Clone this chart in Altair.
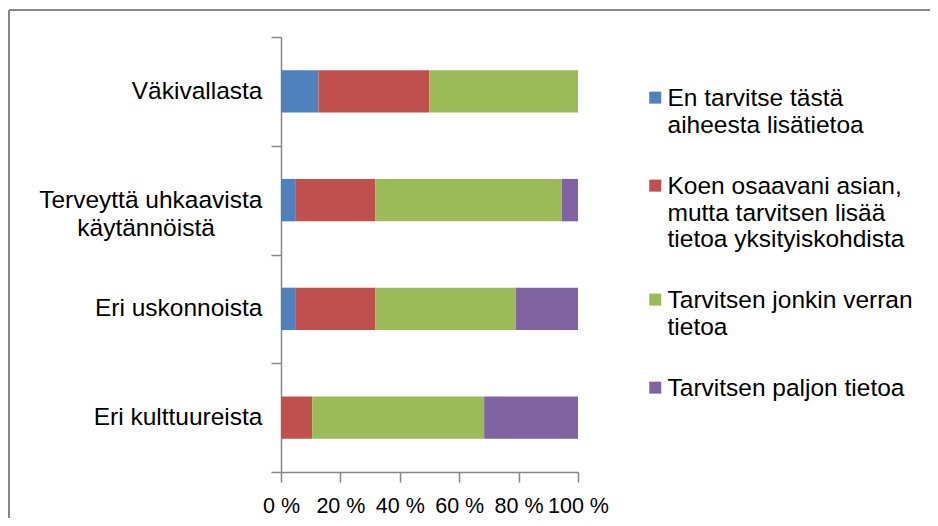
import altair as alt
import pandas as pd

categories = [
    "Väkivallasta",
    "Terveyttä uhkaavista\nkäytännöistä",
    "Eri uskonnoista",
    "Eri kulttuureista",
]
series = [
    "En tarvitse tästä\naiheesta lisätietoa",
    "Koen osaavani asian,\nmutta tarvitsen lisää\ntietoa yksityiskohdista",
    "Tarvitsen jonkin verran\ntietoa",
    "Tarvitsen paljon tietoa",
]
blue = [12.6, 5.0, 5.0, 0.0]
red = [37.3, 26.8, 26.8, 10.5]
green = [50.1, 62.7, 47.2, 57.9]
purple = [0.0, 5.5, 21.0, 31.6]
values = [blue, red, green, purple]
colors = ["#4F81BD", "#C0504D", "#9BBB59", "#8064A2"]
x_ticks = [0, 0.2, 0.4, 0.6, 0.8, 1.0]

rows = []
for si, (s, vals) in enumerate(zip(series, values)):
    for c, v in zip(categories, vals):
        rows.append({"category": c, "series": s, "value": v, "order": si})
df = pd.DataFrame(rows)

FONT = "Liberation Sans"
GRAY = "#868686"
# non-breaking spaces closed by a zero-width space so they are not trimmed
PAD = "\u00a0" * 7 + "\u200b"

# multi-line category labels: second line roughly centred under the first
y_label_expr = (
    "indexof(datum.label, '\\n') > 0 ? "
    "[split(datum.label, '\\n')[0], split(datum.label, '\\n')[1] + '" + PAD + "'] "
    ": datum.label"
)

bars = alt.Chart(df).mark_bar(height=alt.RelativeBandSize(0.39)).encode(
    y=alt.Y(
        "category:N",
        sort=categories,
        title=None,
        scale=alt.Scale(paddingInner=0, paddingOuter=0),
        axis=alt.Axis(
            tickBand="extent",
            labelExpr=y_label_expr,
            labelFont=FONT,
            labelFontSize=24.5,
            labelColor="#000000",
            labelPadding=9,
            labelLineHeight=28,
            labelLimit=400,
            labelOverlap=False,
            tickSize=10,
            tickColor=GRAY,
            tickWidth=1.5,
            domainColor=GRAY,
            domainWidth=1.5,
            grid=False,
        ),
    ),
    x=alt.X(
        "value:Q",
        stack="normalize",
        title=None,
        scale=alt.Scale(domain=[0, 1], nice=False),
        axis=alt.Axis(
            values=x_ticks,
            labelExpr="round(datum.value * 100) + ' %'",
            labelFont=FONT,
            labelFontSize=21.5,
            labelColor="#000000",
            labelPadding=13,
            labelFlush=False,
            labelOverlap=False,
            tickSize=10,
            tickColor=GRAY,
            tickWidth=1.5,
            domainColor=GRAY,
            domainWidth=1.5,
            grid=False,
        ),
    ),
    color=alt.Color(
        "series:N",
        sort=series,
        scale=alt.Scale(domain=series, range=colors),
        legend=alt.Legend(
            title=None,
            orient="none",
            legendX=362,
            legendY=38,
            labelExpr="split(datum.label, '\\n')",
            labelFont=FONT,
            labelFontSize=24.5,
            labelColor="#000000",
            labelLimit=400,
            labelBaseline="top",
            labelOffset=0,
            symbolType="M-1,0.73H1V2.73H-1Z",
            symbolSize=144,
            symbolStrokeWidth=0,
            symbolOpacity=1,
            rowPadding=25,
            padding=0,
        ),
    ),
    order=alt.Order("order:Q"),
)

one = pd.DataFrame({"a": [0]})
frame_top = alt.Chart(one).mark_rule(color="#878787", strokeWidth=2).encode(
    x=alt.value(-272), x2=alt.value(700), y=alt.value(-27)
)
frame_left = alt.Chart(one).mark_rule(color="#878787", strokeWidth=2).encode(
    x=alt.value(-272), y=alt.value(-27), y2=alt.value(500)
)

chart = (
    alt.layer(frame_top, frame_left, bars)
    .properties(
        width=297,
        height=435,
        autosize="none",
        padding={"left": 273, "top": 29, "right": 352, "bottom": 46},
        background="white",
    )
    .configure_view(stroke=None)
)

chart.save("out.html", embed_options={"renderer": "svg", "actions": False})
